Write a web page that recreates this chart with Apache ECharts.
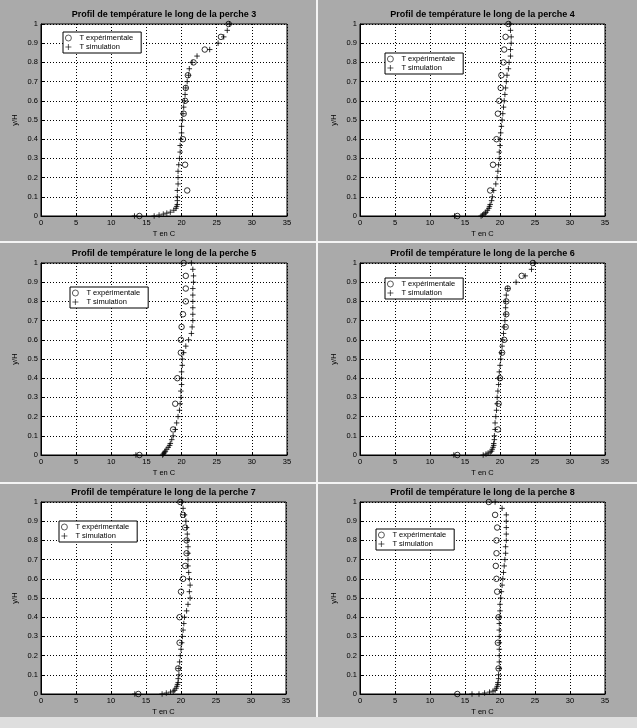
<!DOCTYPE html>
<html><head><meta charset="utf-8">
<script src="https://cdn.jsdelivr.net/npm/echarts@6/dist/echarts.min.js"></script>
<style>html,body{margin:0;padding:0;background:#fff}#c{width:637px;height:728px}</style>
</head><body><div id="c"></div>
<script>
// ---- data ----
const titles = [
  'Profil de température le long de la perche 3',
  'Profil de température le long de la perche 4',
  'Profil de température le long de la perche 5',
  'Profil de température le long de la perche 6',
  'Profil de température le long de la perche 7',
  'Profil de température le long de la perche 8'
];
const seriesNames = ['T expérimentale', 'T simulation'];
const xTicks = [0, 5, 10, 15, 20, 25, 30, 35];
const yTicks = [0, 0.1, 0.2, 0.3, 0.4, 0.5, 0.6, 0.7, 0.8, 0.9, 1];

const yExp = [0, 0.133, 0.267, 0.4, 0.533, 0.6, 0.667, 0.733, 0.8, 0.867, 0.933, 1];
const expX3 = [14.0, 20.8, 20.5, 20.2, 20.3, 20.5, 20.6, 20.9, 21.7, 23.3, 25.6, 26.7];
const expX4 = [13.9, 18.6, 19.0, 19.5, 19.7, 19.9, 20.1, 20.2, 20.5, 20.6, 20.8, 21.2];
const expX5 = [14.0, 18.8, 19.1, 19.4, 19.9, 19.9, 20.0, 20.2, 20.6, 20.6, 20.6, 20.3];
const expX6 = [13.9, 19.7, 19.8, 20.0, 20.3, 20.6, 20.8, 20.9, 20.9, 21.1, 23.1, 24.7];
const expX7 = [13.9, 19.6, 19.8, 19.8, 20.0, 20.3, 20.6, 20.8, 20.8, 20.6, 20.3, 19.9];
const expX8 = [13.9, 19.8, 19.7, 19.8, 19.6, 19.5, 19.4, 19.5, 19.5, 19.6, 19.3, 18.4];

const ySim = [0, 0, 0.005, 0.01, 0.015, 0.02, 0.03, 0.04, 0.05, 0.06, 0.08, 0.1,
  0.133, 0.167, 0.2, 0.233, 0.267, 0.3, 0.333, 0.367, 0.4, 0.433, 0.467, 0.5,
  0.533, 0.567, 0.6, 0.633, 0.667, 0.7, 0.733, 0.767, 0.8, 0.833, 0.867, 0.9,
  0.933, 0.967, 1];
const simX3 = [13.3, 16.1, 16.8, 17.4, 17.9, 18.4, 18.9, 19.2, 19.3, 19.4, 19.4, 19.4,
  19.4, 19.5, 19.5, 19.5, 19.6, 19.7, 19.8, 19.8, 19.9, 20.0, 20.0, 20.1,
  20.2, 20.3, 20.4, 20.5, 20.6, 20.8, 21.0, 21.1, 21.5, 22.2, 24.0, 25.2,
  26.0, 26.5, 26.8];
const simX4 = [13.5, 17.3, 17.5, 17.7, 17.9, 18.0, 18.2, 18.4, 18.5, 18.6, 18.8, 18.9,
  19.1, 19.4, 19.6, 19.7, 19.8, 19.9, 19.9, 20.0, 20.0, 20.1, 20.2, 20.3,
  20.4, 20.5, 20.6, 20.7, 20.8, 20.9, 21.0, 21.2, 21.3, 21.5, 21.5, 21.6,
  21.6, 21.5, 21.4];
const simX5 = [13.5, 17.3, 17.4, 17.5, 17.6, 17.7, 17.9, 18.1, 18.3, 18.4, 18.6, 18.8,
  19.1, 19.3, 19.5, 19.7, 19.8, 19.9, 19.9, 20.0, 20.0, 20.0, 20.1, 20.1,
  20.3, 20.6, 21.0, 21.4, 21.5, 21.6, 21.6, 21.6, 21.6, 21.6, 21.6, 21.7,
  21.7, 21.6, 21.4];
const simX6 = [13.4, 17.6, 18.0, 18.3, 18.6, 18.8, 18.9, 19.0, 19.1, 19.1, 19.2, 19.2,
  19.3, 19.3, 19.4, 19.5, 19.6, 19.6, 19.7, 19.8, 19.8, 19.9, 20.0, 20.1,
  20.2, 20.3, 20.4, 20.5, 20.6, 20.7, 20.8, 20.8, 20.8, 20.9, 21.1, 22.3,
  23.6, 24.5, 24.9];
const simX7 = [13.4, 17.3, 17.9, 18.5, 18.9, 19.1, 19.3, 19.4, 19.5, 19.6, 19.6, 19.7,
  19.7, 19.8, 19.9, 20.0, 20.1, 20.2, 20.3, 20.4, 20.5, 20.8, 21.0, 21.3,
  21.2, 21.3, 21.2, 21.1, 21.0, 21.0, 21.0, 21.0, 20.9, 20.9, 20.8, 20.7,
  20.5, 20.3, 20.1];
const simX8 = [16.0, 17.0, 17.8, 18.5, 19.0, 19.3, 19.5, 19.6, 19.7, 19.7, 19.8, 19.8,
  19.9, 19.9, 19.9, 19.9, 19.9, 19.9, 19.9, 19.9, 19.9, 20.0, 20.0, 20.1,
  20.2, 20.3, 20.4, 20.5, 20.6, 20.7, 20.8, 20.8, 20.9, 20.9, 20.9, 20.9,
  20.9, 20.3, 19.3];

const expAll = [expX3, expX4, expX5, expX6, expX7, expX8];
const simAll = [simX3, simX4, simX5, simX6, simX7, simX8];

// ---- layout ----
const gridPos = [
  {left: 41, top: 24, width: 246, height: 192},
  {left: 360, top: 24, width: 245, height: 192},
  {left: 41, top: 263, width: 246, height: 192},
  {left: 360, top: 263, width: 245, height: 192},
  {left: 41, top: 502, width: 245, height: 192},
  {left: 360, top: 502, width: 245, height: 192}
];
const titleTop = [10, 10, 249, 249, 488, 488];
const legendPos = [[63, 32], [385, 53], [70, 287], [385, 278], [59, 521], [376, 529]];

const FONT = '"Liberation Sans", Arial, sans-serif';
const plusPath = 'path://M5,0L5,10M0,5L10,5';
const markStyle = {color: 'rgba(0,0,0,0)', borderColor: '#000', borderWidth: 1};

const option = {
  backgroundColor: '#aaaaaa',
  animation: false,
  title: [], grid: [], xAxis: [], yAxis: [], series: [], legend: [],
  graphic: [
    {type: 'rect', shape: {x: 316, y: 0, width: 2, height: 728}, style: {fill: '#f4f4f4'}, silent: true},
    {type: 'rect', shape: {x: 0, y: 241, width: 637, height: 2}, style: {fill: '#f4f4f4'}, silent: true},
    {type: 'rect', shape: {x: 0, y: 482, width: 637, height: 2}, style: {fill: '#f4f4f4'}, silent: true},
    {type: 'rect', shape: {x: 0, y: 717, width: 637, height: 11}, style: {fill: '#dedede'}, silent: true}
  ]
};

for (let i = 0; i < 6; i++) {
  const g = gridPos[i];
  option.title.push({
    text: titles[i], left: g.left + g.width / 2, top: titleTop[i], textAlign: 'center', padding: 0,
    textStyle: {fontSize: 9, fontWeight: 'bold', fontFamily: FONT, color: '#000'}
  });
  option.grid.push(Object.assign({show: true, backgroundColor: '#fff', borderColor: '#000', borderWidth: 1}, g));
  option.xAxis.push({
    type: 'value', gridIndex: i, min: xTicks[0], max: xTicks[xTicks.length - 1], interval: 5,
    name: 'T en C', nameLocation: 'middle', nameGap: 14,
    nameTextStyle: {fontSize: 7.5, fontFamily: FONT, color: '#000'},
    axisLine: {show: true, onZero: false, lineStyle: {color: '#000', width: 1}},
    axisTick: {show: true, inside: true, length: 3, lineStyle: {color: '#000'}},
    axisLabel: {fontSize: 7.5, fontFamily: FONT, color: '#000', margin: 3},
    splitLine: {show: true, lineStyle: {color: '#000', type: [1, 2], width: 1}}
  });
  option.yAxis.push({
    type: 'value', gridIndex: i, min: yTicks[0], max: yTicks[yTicks.length - 1], interval: 0.1,
    name: 'y/H', nameLocation: 'middle', nameGap: 22, nameRotate: 90,
    nameTextStyle: {fontSize: 7.5, fontFamily: FONT, color: '#000'},
    axisLine: {show: true, onZero: false, lineStyle: {color: '#000', width: 1}},
    axisTick: {show: true, inside: true, length: 3, lineStyle: {color: '#000'}},
    axisLabel: {fontSize: 7.5, fontFamily: FONT, color: '#000', margin: 3},
    splitLine: {show: true, lineStyle: {color: '#000', type: [1, 2], width: 1}}
  });
  option.series.push({
    type: 'scatter', name: seriesNames[0], xAxisIndex: i, yAxisIndex: i,
    symbol: 'circle', symbolSize: 5.5,
    itemStyle: markStyle,
    emphasis: {disabled: true},
    data: yExp.map((y, k) => [expAll[i][k], y])
  });
  option.series.push({
    type: 'scatter', name: seriesNames[1], xAxisIndex: i, yAxisIndex: i,
    symbol: plusPath, symbolSize: 5.5,
    itemStyle: markStyle,
    emphasis: {disabled: true},
    data: ySim.map((y, k) => [simAll[i][k], y])
  });
  option.legend.push({
    left: legendPos[i][0], top: legendPos[i][1], orient: 'vertical',
    backgroundColor: '#fff', borderColor: '#000', borderWidth: 1, borderRadius: 0,
    padding: [2, 8, 2, 2], itemGap: 1, itemWidth: 12, itemHeight: 6,
    symbolKeepAspect: true,
    itemStyle: {color: 'rgba(0,0,0,0)', borderColor: '#000', borderWidth: 0.8},
    selectedMode: false,
    textStyle: {fontSize: 7.5, fontFamily: FONT, color: '#000'},
    data: seriesNames
  });
}

const chart = echarts.init(document.getElementById('c'), null, {renderer: 'canvas'});
chart.setOption(option);
</script>
</body></html>
